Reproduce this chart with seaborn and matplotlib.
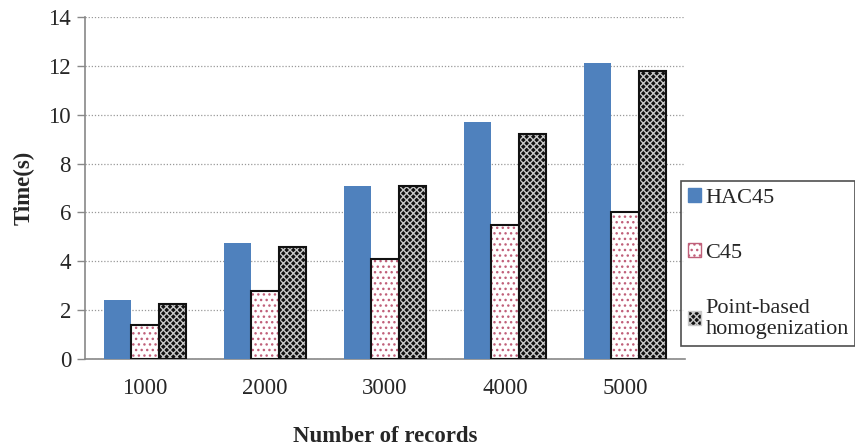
import matplotlib
matplotlib.use("Agg")
import matplotlib.pyplot as plt
import seaborn as sns
import pandas as pd
from matplotlib.patches import Rectangle, Patch

categories = ["1000", "2000", "3000", "4000", "5000"]
series = ["HAC45", "C45", "Point-based\nhomogenization"]
hac45 = [2.4, 4.75, 7.1, 9.7, 12.1]
c45 = [1.4, 2.8, 4.1, 5.5, 6.0]
point = [2.25, 4.6, 7.1, 9.2, 11.8]
yticks = [0, 2, 4, 6, 8, 10, 12, 14]

df = pd.DataFrame({
    "records": categories * 3,
    "method": [series[0]] * 5 + [series[1]] * 5 + [series[2]] * 5,
    "time": hac45 + c45 + point,
})

sns.set_style("white")
plt.rcParams["font.family"] = ["Liberation Serif", "DejaVu Serif"]
plt.rcParams["hatch.linewidth"] = 1.0

fig = plt.figure(figsize=(8.55, 4.46), dpi=100)
ax = fig.add_axes([85 / 855, 87 / 446, 600 / 855, 342 / 446])

sns.barplot(data=df, x="records", y="time", hue="method", ax=ax,
            width=0.68, saturation=1, legend=False,
            palette=["#4f81bd", "white", "#222222"], errorbar=None)

styles = [
    dict(fc="#4f81bd", hatch=None, hc="#4f81bd", outline=None),
    dict(fc="white", hatch="...", hc="#c0607a", outline="#111111"),
    dict(fc="#111111", hatch="xxxxx", hc="#c8c8c8", outline="#111111"),
]
patches = [p for p in ax.patches]
for i, p in enumerate(patches):
    s = styles[i // 5]
    p.set_facecolor(s["fc"])
    p.set_linewidth(0)
    p.set_zorder(3)
    if s["hatch"]:
        p.set_hatch(s["hatch"])
        p.set_edgecolor(s["hc"])
    if s["outline"]:
        x, y = p.get_xy()
        ax.add_patch(Rectangle((x, y), p.get_width(), p.get_height(),
                               fill=False, ec=s["outline"], lw=1.5, zorder=4))

ax.set_ylim(0, 14)
ax.set_xlim(-0.5, 4.5)
ax.set_yticks(yticks)
ax.set_yticklabels([str(t) for t in yticks], fontsize=16.5)
ax.set_xticks(range(5))
ax.set_xticklabels(categories, fontsize=16.5)
ax.set_xticks([0.5 + i for i in range(-1, 5)], minor=True)
ax.tick_params(axis="x", which="major", length=0, pad=14)
ax.tick_params(axis="x", which="minor", length=6, color="#888888", width=1, direction="out")
ax.tick_params(axis="y", length=6, color="#888888", width=1, direction="out", left=True, pad=4)
ax.grid(axis="y", linestyle=(0, (1, 1.5)), color="#999999", linewidth=0.9, zorder=0)
ax.set_axisbelow(True)
for sp in ["top", "right"]:
    ax.spines[sp].set_visible(False)
for sp in ["left", "bottom"]:
    ax.spines[sp].set_color("#888888")
    ax.spines[sp].set_linewidth(1.2)

ax.set_xlabel("Number of records", fontsize=16.5, fontweight="bold")
ax.xaxis.set_label_coords(0.5, -(426 - 359) / 342)
ax.set_ylabel("Time(s)", fontsize=16.5, fontweight="bold", labelpad=10)

handles = [
    Patch(facecolor="#4f81bd", edgecolor="#4f81bd", label=series[0]),
    Patch(facecolor="white", edgecolor="#c0607a", hatch="...", label=series[1]),
    Patch(facecolor="#111111", edgecolor="#c8c8c8", hatch="xxxxx", label=series[2]),
]
leg = fig.legend(handles=handles, loc="upper left",
                 bbox_to_anchor=(681 / 855, 1 - 181 / 446),
                 frameon=True, fancybox=False, fontsize=16,
                 handlelength=0.6, handleheight=0.6, handletextpad=0.2,
                 labelspacing=1.6, borderpad=0.3, borderaxespad=0)
leg.get_frame().set_edgecolor("#222222")
leg.get_frame().set_linewidth(1.2)

fig.savefig("out.png", dpi=100)
